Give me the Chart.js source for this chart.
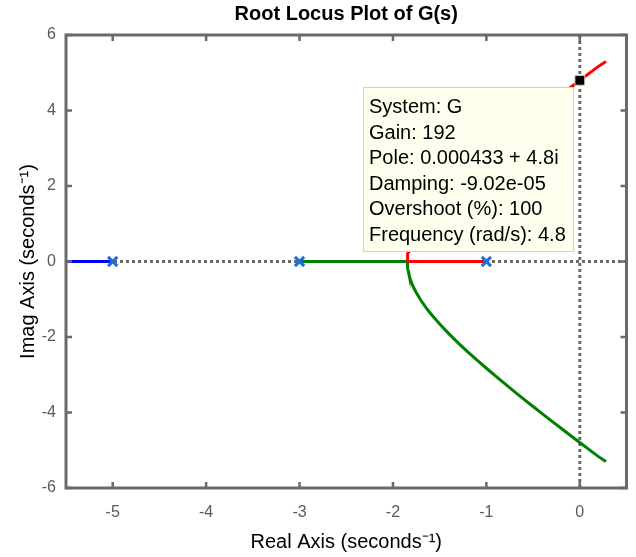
<!DOCTYPE html>
<html><head><meta charset="utf-8">
<script src="https://cdn.jsdelivr.net/npm/chart.js@4.4.0/dist/chart.umd.min.js"></script>
<style>html,body{margin:0;padding:0;background:#fff}#c{display:block}</style>
</head><body>
<canvas id="c" width="636" height="557"></canvas>
<script>
const chartTitle = 'Root Locus Plot of G(s)';
const xAxisTitle = 'Real Axis (seconds\u207B\u00B9)';
const yAxisTitle = 'Imag Axis (seconds\u207B\u00B9)';
const xTickValues = [-5, -4, -3, -2, -1, 0];
const yTickValues = [-6, -4, -2, 0, 2, 4, 6];
const xRange = [-5.5, 0.5];
const yRange = [-6, 6];

const poleX = [-5, -3, -1];
const poleY = [0, 0, 0];

const blueX = [-5, -5.5];
const blueY = [0, 0];

const greenX = [-3, -1.8453, -1.845, -1.844, -1.84, -1.835, -1.83, -1.82, -1.81, -1.8, -1.78, -1.75, -1.7, -1.65, -1.6, -1.5, -1.4, -1.3, -1.2, -1.1, -1.0, -0.9, -0.8, -0.7, -0.6, -0.5, -0.4, -0.3, -0.2, -0.1, 0, 0.1, 0.2, 0.28];
const greenY = [0, 0, -0.046, -0.095, -0.192, -0.268, -0.327, -0.421, -0.498, -0.566, -0.682, -0.829, -1.034, -1.211, -1.371, -1.658, -1.918, -2.161, -2.392, -2.613, -2.828, -3.038, -3.243, -3.445, -3.644, -3.841, -4.035, -4.227, -4.418, -4.608, -4.796, -4.983, -5.169, -5.3];

const redX = [-1, -1.8453, -1.845, -1.844, -1.84, -1.835, -1.83, -1.82, -1.81, -1.8, -1.78, -1.75, -1.7, -1.65, -1.6, -1.5, -1.4, -1.3, -1.2, -1.1, -1.0, -0.9, -0.8, -0.7, -0.6, -0.5, -0.4, -0.3, -0.2, -0.1, 0, 0.1, 0.2, 0.28];
const redY = [0, 0, 0.046, 0.095, 0.192, 0.268, 0.327, 0.421, 0.498, 0.566, 0.682, 0.829, 1.034, 1.211, 1.371, 1.658, 1.918, 2.161, 2.392, 2.613, 2.828, 3.038, 3.243, 3.445, 3.644, 3.841, 4.035, 4.227, 4.418, 4.608, 4.796, 4.983, 5.169, 5.3];

const markerX = [0.000433];
const markerY = [4.8];

const infoLines = ['System: G', 'Gain: 192', 'Pole: 0.000433 + 4.8i', 'Damping: -9.02e-05', 'Overshoot (%): 100', 'Frequency (rad/s): 4.8'];

const FONT = '"Liberation Sans", Arial, Helvetica, sans-serif';
const AXIS_GREY = '#6a6a6a';
Chart.defaults.font.family = FONT;

const toXY = (xs, ys) => xs.map((v, i) => ({x: v, y: ys[i]}));

function drawInfoBox(chart) {
  const {ctx, scales: {x, y}} = chart;
  const mx = x.getPixelForValue(markerX[0]);
  const my = y.getPixelForValue(markerY[0]);
  const left = Math.round(mx - 217), top = Math.round(my + 7), w = 211, h = 165;
  ctx.save();
  ctx.fillStyle = '#ffffee';
  ctx.fillRect(left, top, w, h);
  ctx.strokeStyle = '#d0d0c8';
  ctx.lineWidth = 1;
  ctx.strokeRect(left + 0.5, top + 0.5, w - 1, h - 1);
  ctx.fillStyle = '#000';
  ctx.font = '20px ' + FONT;
  ctx.textAlign = 'left';
  ctx.textBaseline = 'alphabetic';
  infoLines.forEach((t, i) => ctx.fillText(t, left + 6, top + 26 + i * 25.5));
  ctx.restore();
}

const framePlugin = {
  id: 'frame',
  beforeDatasetsDraw(chart) {
    const {ctx, chartArea: a, scales: {x, y}} = chart;
    ctx.save();
    ctx.beginPath(); ctx.rect(a.left, a.top, a.right - a.left, a.bottom - a.top); ctx.clip();
    ctx.strokeStyle = AXIS_GREY; ctx.lineWidth = 3; ctx.setLineDash([3, 3]);
    const y0 = y.getPixelForValue(0), x0 = x.getPixelForValue(0);
    ctx.beginPath(); ctx.moveTo(a.left, y0); ctx.lineTo(a.right, y0); ctx.stroke();
    ctx.beginPath(); ctx.moveTo(x0, a.top); ctx.lineTo(x0, a.bottom); ctx.stroke();
    ctx.restore();
  },
  afterDatasetDraw(chart, args) {
    if (chart.data.datasets[args.index].label === 'poles') drawInfoBox(chart);
  },
  afterDraw(chart) {
    const {ctx, chartArea: a, scales: {x, y}} = chart;
    ctx.save();
    ctx.strokeStyle = AXIS_GREY;
    ctx.lineWidth = 2.5;
    ctx.beginPath();
    xTickValues.forEach(v => {
      const px = x.getPixelForValue(v);
      ctx.moveTo(px, a.bottom); ctx.lineTo(px, a.bottom - 6);
      ctx.moveTo(px, a.top); ctx.lineTo(px, a.top + 6);
    });
    yTickValues.forEach(v => {
      const py = y.getPixelForValue(v);
      ctx.moveTo(a.left, py); ctx.lineTo(a.left + 6, py);
      ctx.moveTo(a.right, py); ctx.lineTo(a.right - 6, py);
    });
    ctx.stroke();
    ctx.lineWidth = 3;
    ctx.strokeRect(a.left, a.top, a.right - a.left, a.bottom - a.top);
    ctx.restore();
  }
};

new Chart(document.getElementById('c'), {
  type: 'scatter',
  data: {
    datasets: [
      {label: 'marker', data: toXY(markerX, markerY), pointStyle: 'rect', pointRadius: 7, backgroundColor: '#000', borderColor: '#e0e0b0', borderWidth: 1, order: 0},
      {label: 'poles', data: toXY(poleX, poleY), pointStyle: 'crossRot', pointRadius: 6.5, borderColor: '#1c6fd6', backgroundColor: '#1c6fd6', borderWidth: 3, order: 1},
      {label: 'red', data: toXY(redX, redY), showLine: true, borderColor: '#ff0000', borderWidth: 3, pointRadius: 0, order: 2},
      {label: 'blue', data: toXY(blueX, blueY), showLine: true, borderColor: '#0000ff', borderWidth: 3, pointRadius: 0, order: 3},
      {label: 'green', data: toXY(greenX, greenY), showLine: true, borderColor: '#008000', borderWidth: 3, pointRadius: 0, order: 4}
    ]
  },
  options: {
    responsive: false, animation: false, devicePixelRatio: 1,
    layout: {padding: {left: 0, right: 0, top: 0, bottom: 0}},
    plugins: {
      legend: {display: false},
      tooltip: {enabled: false},
      title: {display: true, fullSize: false, text: chartTitle, color: '#000', font: {size: 20, weight: 'bold'}, padding: {top: 2, bottom: 9}}
    },
    scales: {
      x: {
        type: 'linear', min: xRange[0], max: xRange[1],
        afterBuildTicks: s => { s.ticks = xTickValues.map(v => ({value: v})); },
        afterFit: s => { s.height = 69; s.paddingLeft = 0; s.paddingRight = 0; },
        grid: {display: false, drawTicks: false}, border: {display: false},
        ticks: {padding: 15, color: '#5a5a5a', font: {size: 16}, callback: v => String(v)},
        title: {display: true, text: xAxisTitle, color: '#000', font: {size: 20}, padding: {top: 0, bottom: 3}}
      },
      y: {
        type: 'linear', min: yRange[0], max: yRange[1],
        afterBuildTicks: s => { s.ticks = yTickValues.map(v => ({value: v})); },
        afterFit: s => { s.width = 66; s.paddingTop = 0; s.paddingBottom = 0; },
        grid: {display: false, drawTicks: false}, border: {display: false},
        ticks: {padding: 10, color: '#5a5a5a', font: {size: 16}, callback: v => String(v)},
        title: {display: true, text: yAxisTitle, color: '#000', font: {size: 20}, padding: {top: 16, bottom: 0}}
      }
    }
  },
  plugins: [framePlugin]
});
</script>
</body></html>
